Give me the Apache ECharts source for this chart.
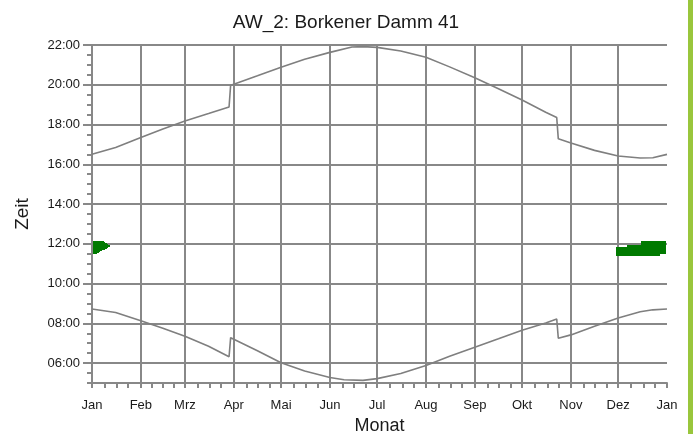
<!DOCTYPE html>
<html lang="de">
<head>
    <meta charset="UTF-8">
    <title>AW_2: Borkener Damm 41</title>
    <script src="https://cdn.jsdelivr.net/npm/echarts@6/dist/echarts.min.js"></script>
    <style>
        html, body { margin: 0; padding: 0; background: #fff; }
        #main { width: 693px; height: 434px; }
    </style>
</head>
<body>
<div id="main"></div>
<script>
    // Monatsanfaenge (Tag im Jahr, 0 = 1. Jan)
    var monthStarts = [0, 31, 59, 90, 120, 151, 181, 212, 243, 273, 304, 334, 365];
    var monthNames = ['Jan', 'Feb', 'Mrz', 'Apr', 'Mai', 'Jun', 'Jul', 'Aug', 'Sep', 'Okt', 'Nov', 'Dez', 'Jan'];
    var hourTicks = [6, 8, 10, 12, 14, 16, 18, 20, 22];

    // Sonnenuntergang [Tag, Stunde]
    var sunsetDays  = [0, 15, 31, 45, 59, 74, 87, 88, 90, 105, 120, 135, 151, 165, 172, 181, 196, 212, 227, 243, 258, 273, 288, 295, 296, 304, 319, 334, 348, 356, 365];
    var sunsetHours = [16.50, 16.85, 17.35, 17.78, 18.18, 18.55, 18.88, 19.98, 20.03, 20.45, 20.88, 21.28, 21.63, 21.90, 21.92, 21.88, 21.70, 21.38, 20.90, 20.35, 19.80, 19.23, 18.62, 18.35, 17.28, 17.07, 16.70, 16.42, 16.32, 16.33, 16.50];

    // Sonnenaufgang [Tag, Stunde]
    var sunriseDays  = [0, 15, 31, 45, 59, 74, 87, 88, 90, 105, 120, 135, 151, 160, 172, 181, 196, 212, 227, 243, 258, 273, 288, 295, 296, 304, 319, 334, 348, 356, 365];
    var sunriseHours = [8.72, 8.55, 8.13, 7.75, 7.35, 6.85, 6.32, 7.28, 7.20, 6.62, 6.02, 5.60, 5.28, 5.16, 5.13, 5.22, 5.48, 5.88, 6.35, 6.80, 7.22, 7.65, 8.02, 8.22, 7.25, 7.42, 7.85, 8.27, 8.58, 8.68, 8.72];

    // Schattenwurf: Tag, Beginn, Ende (Stunden)
    var shadowDays  = [1, 2, 3, 4, 5, 6, 7, 8, 9, 10,
        333, 334, 335, 336, 337, 338, 339, 340, 341, 342, 343, 344, 345, 346, 347, 348,
        349, 350, 351, 352, 353, 354, 355, 356, 357, 358, 359, 360, 361, 362, 363];
    var shadowStart = [11.48, 11.48, 11.56, 11.58, 11.62, 11.68, 11.70, 11.76, 11.80, 11.84,
        11.38, 11.38, 11.38, 11.38, 11.38, 11.38, 11.38, 11.38, 11.38, 11.38, 11.38, 11.38, 11.38, 11.38, 11.38, 11.38,
        11.38, 11.38, 11.38, 11.38, 11.38, 11.38, 11.38, 11.38, 11.38, 11.38, 11.38, 11.47, 11.47, 11.47, 11.47];
    var shadowEnd   = [12.13, 12.13, 12.13, 12.13, 12.12, 12.12, 12.10, 12.05, 12.00, 11.95,
        11.85, 11.85, 11.85, 11.85, 11.85, 11.85, 11.85, 11.94, 11.94, 11.94, 11.94, 11.94, 11.94, 11.94, 11.94, 11.94,
        12.12, 12.12, 12.12, 12.12, 12.12, 12.12, 12.12, 12.12, 12.12, 12.12, 12.12, 12.12, 12.12, 12.12, 12.12];

    var days = [];
    for (var i = 0; i <= 365; i++) days.push(i);

    // Viertelmonats-Striche
    var minorDays = [365];
    for (var m = 0; m < 12; m++) {
        var len = monthStarts[m + 1] - monthStarts[m];
        for (var k = 0; k < 4; k++) minorDays.push(monthStarts[m] + Math.round(len * k / 4));
    }

    function pairs(xs, ys) {
        return xs.map(function (x, i) { return [x, ys[i]] })
    }

    var font = "'Liberation Sans', Arial, sans-serif";
    var gray = '#888888';

    var option = {
        backgroundColor: '#fff',
        animation: false,
        title: {
            text: 'AW_2: Borkener Damm 41',
            left: 341,
            textAlign: 'center',
            top: 8,
            textStyle: { fontFamily: font, fontSize: 19, fontWeight: 'normal', color: '#1a1a1a' }
        },
        grid: { left: 92, right: 26, top: 45, bottom: 51, outerBoundsMode: 'none' },
        xAxis: {
            type: 'category',
            data: days,
            boundaryGap: false,
            name: 'Monat',
            nameLocation: 'middle',
            nameGap: 31,
            nameTextStyle: { fontFamily: font, fontSize: 18, color: '#1a1a1a' },
            axisLine: { lineStyle: { color: gray, width: 2 } },
            axisTick: {
                length: 5,
                interval: function (idx) { return minorDays.indexOf(idx) >= 0 },
                lineStyle: { color: gray, width: 2 }
            },
            axisLabel: {
                interval: function (idx) { return monthStarts.indexOf(idx) >= 0 },
                formatter: function (v, idx) { return monthNames[monthStarts.indexOf(idx)] },
                margin: 16,
                fontFamily: font, fontSize: 13, color: '#1a1a1a'
            },
            splitLine: {
                show: true,
                interval: function (idx) { return idx > 0 && idx < 365 && monthStarts.indexOf(idx) >= 0 },
                lineStyle: { color: gray, width: 2 }
            }
        },
        yAxis: [{
            type: 'value',
            min: 5,
            max: 22,
            name: 'Zeit',
            nameLocation: 'middle',
            nameGap: 60,
            nameTextStyle: { fontFamily: font, fontSize: 19, color: '#1a1a1a' },
            axisLine: { show: true, lineStyle: { color: gray, width: 2 } },
            axisTick: { show: true, length: 9, customValues: hourTicks, lineStyle: { color: gray, width: 2 } },
            axisLabel: {
                customValues: hourTicks,
                margin: 12,
                fontFamily: font, fontSize: 13, color: '#1a1a1a',
                formatter: function (v) { return (v < 10 ? '0' : '') + v + ':00' }
            },
            splitLine: { show: true, lineStyle: { color: gray, width: 2 } }
        }, {
            type: 'value',
            min: 5,
            max: 22,
            interval: 0.5,
            position: 'left',
            axisLine: { show: false },
            axisTick: { show: true, length: 5, lineStyle: { color: gray, width: 2 } },
            axisLabel: { show: false },
            splitLine: { show: false }
        }],
        series: [
            {
                name: 'Sonnenuntergang',
                type: 'line',
                data: pairs(sunsetDays, sunsetHours),
                showSymbol: false,
                lineStyle: { color: '#7f7f7f', width: 1.6 }
            },
            {
                name: 'Sonnenaufgang',
                type: 'line',
                data: pairs(sunriseDays, sunriseHours),
                showSymbol: false,
                lineStyle: { color: '#7f7f7f', width: 1.6 }
            },
            {
                name: 'Schattenwurf',
                type: 'custom',
                data: shadowDays.map(function (d, i) { return [d, shadowStart[i], shadowEnd[i]] }),
                encode: { x: 0, y: [1, 2] },
                renderItem: function (params, api) {
                    var d = api.value(0);
                    var p0 = api.coord([d, api.value(2)]);
                    var p1 = api.coord([d + 1, api.value(1)]);
                    var x0 = Math.floor(p0[0]);
                    var x1 = Math.ceil(p1[0]);
                    return {
                        type: 'rect',
                        shape: { x: x0, y: Math.round(p0[1]), width: x1 - x0, height: Math.round(p1[1]) - Math.round(p0[1]) },
                        style: { fill: '#007a00', opacity: 1, lineWidth: 0 }
                    }
                }
            }
        ],
        graphic: [{
            type: 'rect',
            right: 0,
            top: 0,
            shape: { width: 5, height: 434 },
            style: { fill: '#99c63c' }
        }]
    };

    var myChart = echarts.init(document.getElementById('main'));
    myChart.setOption(option);
</script>
</body>
</html>
